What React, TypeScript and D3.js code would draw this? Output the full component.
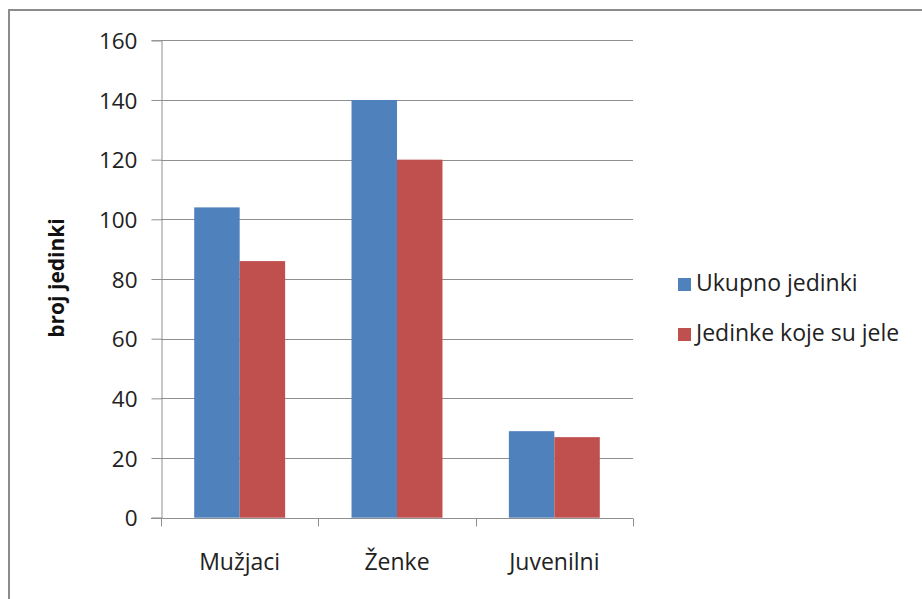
import React, { useEffect, useRef } from "react";
import * as d3 from "d3";

const categories = ["Mužjaci", "Ženke", "Juvenilni"];
const seriesNames = ["Ukupno jedinki", "Jedinke koje su jele"];
const ukupno = [104, 140, 29];
const jele = [86, 120, 27];
const yTicks = [0, 20, 40, 60, 80, 100, 120, 140, 160];
const colors = ["#4F81BD", "#C0504D"];

const W = 922;
const H = 599;
const FONT = "'Open Sans', Carlito, Calibri, sans-serif";

export default function App() {
  const ref = useRef<SVGSVGElement>(null);

  useEffect(() => {
    const svg = d3.select(ref.current);
    svg.selectAll("*").remove();

    // frame
    svg.append("rect")
      .attr("x", 9).attr("y", 10).attr("width", W + 20).attr("height", H + 20)
      .attr("fill", "white").attr("stroke", "#8c8c8c").attr("stroke-width", 2);

    const left = 161, right = 633, top = 40.3, bottom = 517.7;
    const y = d3.scaleLinear().domain([0, 160]).range([bottom, top]);
    const x0 = d3.scaleBand<string>().domain(categories).range([left, right])
      .paddingInner(0.422).paddingOuter(0.211);
    const x1 = d3.scaleBand<string>().domain(seriesNames).range([0, x0.bandwidth()]);

    const g = svg.append("g");

    // gridlines
    g.selectAll("line.grid").data(yTicks.filter((t) => t > 0)).enter().append("line")
      .attr("x1", left).attr("x2", right)
      .attr("y1", (d) => Math.round(y(d)) + 0.5).attr("y2", (d) => Math.round(y(d)) + 0.5)
      .attr("stroke", "#8f8f8f").attr("stroke-width", 1);

    // bars
    const data = categories.map((c, i) => ({ c, vals: [ukupno[i], jele[i]] }));
    const grp = g.selectAll("g.cat").data(data).enter().append("g")
      .attr("transform", (d) => `translate(${x0(d.c)},0)`);
    grp.selectAll("rect").data((d) => d.vals.map((v, j) => ({ v, s: seriesNames[j], j })))
      .enter().append("rect")
      .attr("x", (d) => x1(d.s)!)
      .attr("width", x1.bandwidth())
      .attr("y", (d) => y(d.v))
      .attr("height", (d) => y(0) - y(d.v))
      .attr("fill", (d) => colors[d.j]);

    // y axis
    const yAxis = d3.axisLeft(y).tickValues(yTicks).tickSize(10).tickPadding(14)
      .tickFormat((d) => String(d));
    const ya = g.append("g").attr("transform", `translate(${left + 0.5},0)`).call(yAxis);
    ya.select(".domain").attr("stroke", "#8f8f8f");
    ya.selectAll(".tick line").attr("stroke", "#8f8f8f");
    ya.selectAll(".tick text").attr("font-family", FONT).attr("font-size", 22.5)
      .attr("fill", "#222").attr("dy", "0.36em");

    // x axis
    const xa = g.append("g").attr("transform", `translate(0,${Math.round(bottom) + 0.5})`);
    xa.append("line").attr("x1", left - 10).attr("x2", right).attr("y1", 0).attr("y2", 0)
      .attr("stroke", "#8f8f8f");
    const step = x0.step();
    const bounds = d3.range(categories.length + 1).map((i) => left + i * step);
    xa.selectAll("line.tk").data(bounds).enter().append("line")
      .attr("x1", (d) => Math.round(d) + 0.5).attr("x2", (d) => Math.round(d) + 0.5)
      .attr("y1", 0).attr("y2", 8).attr("stroke", "#8f8f8f");
    xa.selectAll("text").data(categories).enter().append("text")
      .attr("x", (d) => x0(d)! + x0.bandwidth() / 2)
      .attr("y", 51)
      .attr("text-anchor", "middle")
      .attr("font-family", FONT).attr("font-size", 23).attr("fill", "#222")
      .text((d) => d);

    // y title
    svg.append("text")
      .attr("transform", `translate(64,278) rotate(-90)`)
      .attr("text-anchor", "middle")
      .attr("font-family", FONT).attr("font-size", 21).attr("font-weight", "bold")
      .attr("fill", "#111")
      .text("broj jedinki");

    // legend
    const leg = svg.append("g");
    seriesNames.forEach((s, i) => {
      const ly = 278 + i * 50;
      leg.append("rect").attr("x", 678).attr("y", ly).attr("width", 13).attr("height", 13)
        .attr("fill", colors[i]);
      leg.append("text").attr("x", 696).attr("y", ly + 13)
        .attr("font-family", FONT).attr("font-size", 23).attr("fill", "#222")
        .text(s);
    });
  }, []);

  return (
    <svg ref={ref} width={W} height={H}
      style={{ position: "absolute", left: 0, top: 0, display: "block", background: "white" }} />
  );
}
